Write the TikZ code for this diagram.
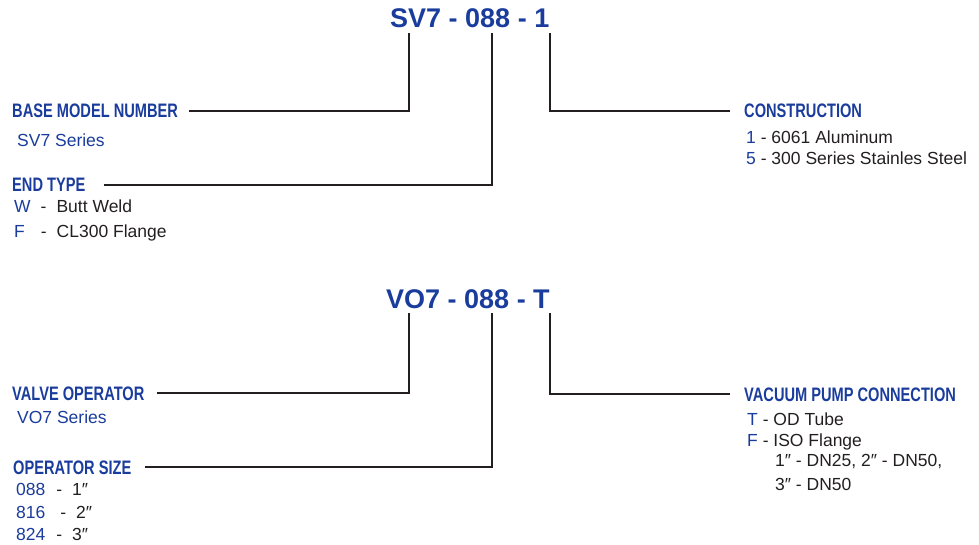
\documentclass[tikz,border=0pt]{standalone}
\usepackage{fontspec}
\setmainfont{Liberation Sans}
\newfontfamily\condfont[FakeStretch=0.75]{Liberation Sans}
\usepackage{tikz}
\usetikzlibrary{positioning}
\definecolor{codeblue}{HTML}{1A3C9C}
\definecolor{ink}{HTML}{231F20}

\begin{document}
\begin{tikzpicture}[x=1pt,y=-1pt,
  code/.style={anchor=base west,inner sep=0pt,text=codeblue,font=\fontsize{27}{30}\selectfont\bfseries},
  head/.style={anchor=base west,inner sep=0pt,text=codeblue,font=\condfont\fontsize{19.5}{22}\selectfont\bfseries},
  item/.style={anchor=base west,inner sep=0pt,text=ink,font=\fontsize{17.5}{20}\selectfont},
  lead/.style={draw=ink,line width=1.9pt}]
\useasboundingbox (0,0) rectangle (979,545);

\node[code] (sv) at (390,28) {SV7 - 088 - 1};
\coordinate (s1) at (409,33);
\coordinate (s2) at (492,33);
\coordinate (s3) at (550,33);
\node[head] (bmn) at (12,118) {BASE MODEL NUMBER};
\node[item,text=codeblue] (bmn1) at (17,147) {SV7 Series};
\node[head] (et) at (12,192) {END TYPE};
\node[item] (et1) at (14,213) {\textcolor{codeblue}{W}\hspace{10pt}-\hspace{10pt}Butt Weld};
\node[item] (et2) at (14,237) {\textcolor{codeblue}{F}\hspace{16pt}-\hspace{10pt}CL300 Flange};
\node[head] (con) at (744,118) {CONSTRUCTION};
\node[item] (con1) at (746,144) {\textcolor{codeblue}{1} - 6061 Aluminum};
\node[item] (con2) at (746,165) {\textcolor{codeblue}{5} - 300 Series Stainles Steel};
\draw[lead,shorten <=11pt] (bmn.east) -| (s1);
\draw[lead,shorten <=18pt] (et.east) -| (s2);
\draw[lead,shorten >=14pt] (s3) |- (con.west);

\node[code] (vo) at (386,308) {VO7 - 088 - T};
\coordinate (v1) at (409,313);
\coordinate (v2) at (492,313);
\coordinate (v3) at (550,313);
\node[head] (vop) at (12,400) {VALVE OPERATOR};
\node[item,text=codeblue] (vop1) at (17,423) {VO7 Series};
\node[head] (os) at (13,474) {OPERATOR SIZE};
\node[item] (os1) at (16,495) {\textcolor{codeblue}{088}\hspace{11pt}-\hspace{10pt}1″};
\node[item] (os2) at (16,518) {\textcolor{codeblue}{816}\hspace{15pt}-\hspace{10pt}2″};
\node[item] (os3) at (16,540) {\textcolor{codeblue}{824}\hspace{11pt}-\hspace{10pt}3″};
\node[head] (vpc) at (744,401) {VACUUM PUMP CONNECTION};
\node[item] (vpc1) at (747,425) {\textcolor{codeblue}{T} - OD Tube};
\node[item] (vpc2) at (747,446) {\textcolor{codeblue}{F} - ISO Flange};
\node[item] (vpc3) at (775,466) {1″ - DN25, 2″ - DN50,};
\node[item] (vpc4) at (775,490) {3″ - DN50};
\draw[lead,shorten <=12pt] (vop.east) -| (v1);
\draw[lead,shorten <=13pt] (os.east) -| (v2);
\draw[lead,shorten >=14pt] (v3) |- (vpc.west);
\end{tikzpicture}
\end{document}
